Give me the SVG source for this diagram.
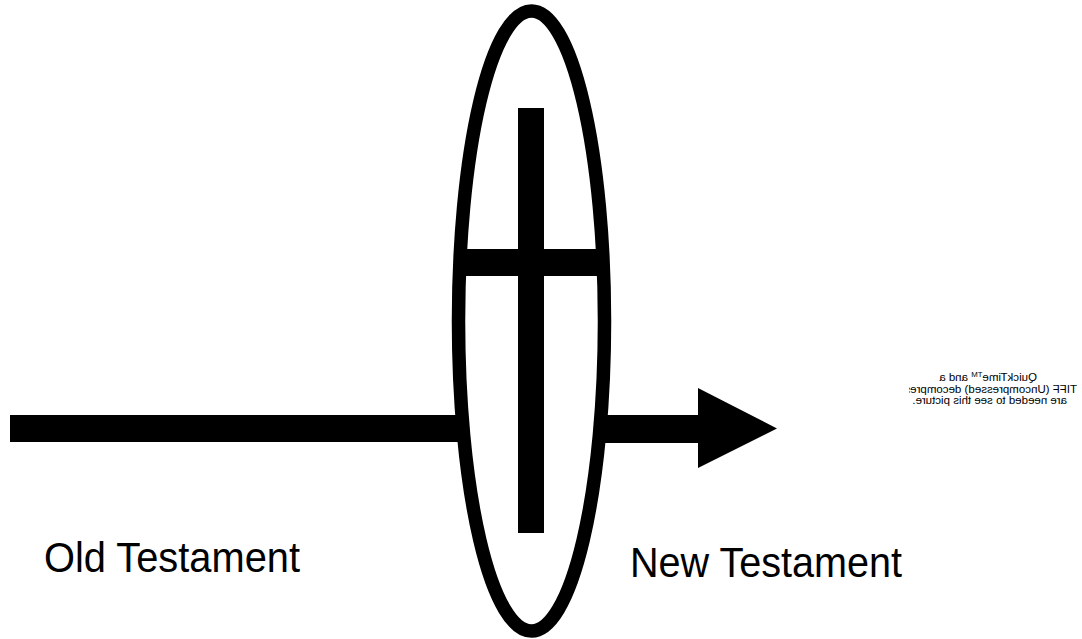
<svg xmlns="http://www.w3.org/2000/svg" width="1082" height="639" viewBox="0 0 1082 639">
<style>
.fill{fill:#000;stroke:none}
.big{font-family:"Liberation Sans",Arial,sans-serif;font-size:42px;fill:#000}
.qt{font-family:"Liberation Sans",Arial,sans-serif;font-size:11.5px;fill:#000}
</style>
<defs>
<clipPath id="qtclip"><rect x="880" y="360" width="181" height="60"/></clipPath>
</defs>
<rect width="1082" height="639" fill="#fff"/>
<g id="connectors">
<rect class="fill" x="10" y="415" width="452" height="27"/>
<path class="fill" d="M600 415 H698 V388 L777 428.5 L698 468 V443 H600 Z"/>
</g>
<g id="cross">
<rect class="fill" x="518" y="108" width="26" height="425"/>
<rect class="fill" x="456" y="249" width="151" height="27"/>
</g>
<g id="ellipse">
<ellipse cx="531.5" cy="321" rx="73" ry="310" fill="none" stroke="#000" stroke-width="13.5"/>
</g>
<g id="old-testament">
<text class="big" x="44" y="572" textLength="256" lengthAdjust="spacingAndGlyphs">Old Testament</text>
</g>
<g id="new-testament">
<text class="big" x="630" y="577" textLength="272" lengthAdjust="spacingAndGlyphs">New Testament</text>
</g>
<g id="placeholder" transform="matrix(-1 0 0 1 1970 0)">
<g clip-path="url(#qtclip)">
<text class="qt" x="933" y="381">QuickTime<tspan font-size="7.8px" dy="-4">TM</tspan><tspan dy="4"> and a</tspan></text>
<text class="qt" x="893" y="392.5">TIFF (Uncompressed) decompressor</text>
<text class="qt" x="903" y="403.5">are needed to see this picture.</text>
</g>
</g>
</svg>
